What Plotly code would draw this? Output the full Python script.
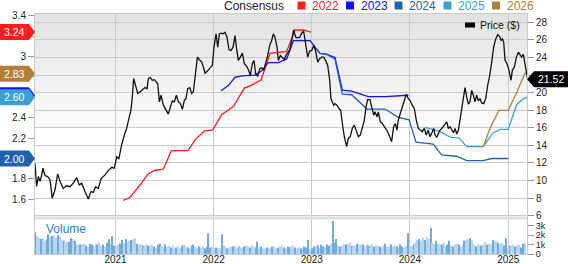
import plotly.graph_objects as go
import pandas as pd
import numpy as np

# ---------------- data ----------------
# dates given as decimal years
price_year = [2020.180, 2020.197, 2020.214, 2020.231, 2020.248, 2020.261, 2020.282, 2020.309, 2020.333, 2020.356,
              2020.384, 2020.411, 2020.435, 2020.468, 2020.502, 2020.536, 2020.570, 2020.604, 2020.631, 2020.655,
              2020.689, 2020.723, 2020.750, 2020.774, 2020.798, 2020.825, 2020.852, 2020.893, 2020.927, 2020.961,
              2020.988, 2021.012, 2021.035, 2021.062, 2021.090, 2021.113, 2021.137, 2021.157, 2021.171, 2021.185,
              2021.199, 2021.226, 2021.250, 2021.274, 2021.301, 2021.321, 2021.335, 2021.352, 2021.375, 2021.396,
              2021.413, 2021.430, 2021.447, 2021.464, 2021.487, 2021.511, 2021.538, 2021.559, 2021.579, 2021.599,
              2021.620, 2021.640, 2021.661, 2021.681, 2021.701, 2021.718, 2021.735, 2021.756, 2021.776, 2021.793,
              2021.813, 2021.834, 2021.854, 2021.878, 2021.895, 2021.912, 2021.936, 2021.963, 2021.986, 2022.003,
              2022.024, 2022.041, 2022.058, 2022.075, 2022.095, 2022.115, 2022.136, 2022.156, 2022.176, 2022.197,
              2022.217, 2022.231, 2022.251, 2022.271, 2022.292, 2022.312, 2022.336, 2022.353, 2022.373, 2022.393,
              2022.410, 2022.427, 2022.448, 2022.468, 2022.489, 2022.509, 2022.529, 2022.550, 2022.570, 2022.590,
              2022.607, 2022.624, 2022.645, 2022.658, 2022.679, 2022.699, 2022.719, 2022.736, 2022.753, 2022.774,
              2022.794, 2022.814, 2022.835, 2022.855, 2022.875, 2022.896, 2022.916, 2022.937, 2022.957, 2022.977,
              2022.998, 2023.018, 2023.038, 2023.059, 2023.079, 2023.099, 2023.120, 2023.140, 2023.161, 2023.181,
              2023.194, 2023.208, 2023.222, 2023.235, 2023.255, 2023.276, 2023.293, 2023.310, 2023.330, 2023.354,
              2023.371, 2023.391, 2023.411, 2023.432, 2023.452, 2023.473, 2023.493, 2023.513, 2023.534, 2023.551,
              2023.568, 2023.591, 2023.608, 2023.629, 2023.642, 2023.663, 2023.676, 2023.697, 2023.717, 2023.737,
              2023.754, 2023.771, 2023.792, 2023.812, 2023.832, 2023.849, 2023.866, 2023.880, 2023.900, 2023.921,
              2023.941, 2023.961, 2023.982, 2024.002, 2024.022, 2024.043, 2024.063, 2024.084, 2024.104, 2024.124,
              2024.145, 2024.165, 2024.185, 2024.202, 2024.219, 2024.240, 2024.254, 2024.271, 2024.288, 2024.305,
              2024.322, 2024.339, 2024.356, 2024.373, 2024.390, 2024.407, 2024.424, 2024.441, 2024.458, 2024.475,
              2024.492, 2024.509, 2024.526, 2024.542, 2024.559, 2024.576, 2024.593, 2024.610, 2024.627, 2024.644,
              2024.661, 2024.678, 2024.695, 2024.712, 2024.729, 2024.750, 2024.770, 2024.790, 2024.811, 2024.831,
              2024.851, 2024.872, 2024.892, 2024.912, 2024.926, 2024.940, 2024.953, 2024.967, 2024.987, 2025.007,
              2025.028, 2025.041, 2025.062, 2025.082, 2025.103, 2025.123, 2025.136, 2025.153, 2025.170, 2025.184,
              2025.197]
price_val = [11.96, 9.32, 10.45, 9.9, 10.6, 11.4, 10.57, 10.45, 10.1, 8.0,
             8.94, 10.75, 9.9, 9.1, 9.4, 9.3, 9.7, 10.34, 9.5, 9.7,
             8.75, 7.9, 8.75, 8.64, 9.3, 9.1, 10.2, 10.64, 11.13, 11.5,
             11.4, 12.7, 12.5, 14.04, 15.17, 15.9, 17.06, 18.0, 19.5, 21.6,
             21.02, 19.9, 20.1, 20.34, 20.57, 20.45, 21.6, 21.7, 21.4, 21.47,
             21.2, 21.0, 18.94, 19.7, 18.57, 18.0, 17.55, 18.38, 19.06, 18.94,
             19.7, 18.94, 18.75, 18.1, 19.13, 19.32, 20.45, 20.57, 19.9, 20.1,
             21.96, 24.04, 23.74, 23.47, 22.9, 22.2, 22.45, 22.83, 23.1, 25.17,
             26.68, 25.17, 26.68, 26.75, 26.68, 26.87, 26.3, 24.87, 24.8, 25.17,
             26.49, 25.17, 23.66, 24.04, 24.49, 23.28, 22.98, 22.6, 21.96, 23.28,
             23.66, 22.15, 21.85, 22.72, 22.83, 22.53, 23.28, 24.23, 25.36, 25.92,
             26.68, 26.3, 25.17, 23.66, 24.23, 24.04, 23.74, 24.23, 24.6, 24.87,
             25.92, 27.13, 26.3, 26.23, 26.3, 26.75, 26.98, 25.55, 24.04, 24.72,
             24.8, 25.36, 24.72, 23.47, 23.85, 24.04, 24.04, 23.66, 23.09, 21.4,
             19.32, 18.94, 18.57, 18.75, 18.57, 18.19, 18.0, 16.49, 14.98, 13.85,
             14.79, 14.98, 15.92, 16.3, 15.55, 14.98, 15.17, 15.92, 16.87, 18.38,
             19.21, 19.21, 18.38, 17.43, 17.81, 17.25, 17.81, 16.68, 16.49, 16.11,
             15.92, 15.55, 14.98, 14.42, 16.11, 16.49, 15.74, 16.87, 17.62, 18.38,
             19.21, 19.81, 19.32, 19.06, 18.57, 18.19, 16.87, 15.92, 15.74, 15.55,
             15.92, 15.17, 15.74, 14.98, 15.36, 15.92, 15.17, 14.9, 15.36, 15.74,
             15.92, 16.11, 16.42, 16.68, 15.92, 16.11, 15.74, 15.43, 15.92, 15.28,
             15.74, 16.87, 18.38, 19.51, 20.57, 19.51, 18.68, 18.94, 20.26, 19.7,
             18.94, 19.7, 19.06, 19.32, 18.83, 18.75, 19.32, 20.83, 21.96, 23.47,
             25.17, 26.11, 26.6, 26.38, 25.92, 26.11, 25.74, 23.66, 23.28, 22.53,
             21.4, 22.53, 22.9, 24.04, 24.6, 24.23, 24.04, 24.34, 23.09, 22.15,
             21.52]

eps_2022_year = [2021.079, 2021.148, 2021.249, 2021.335, 2021.403, 2021.487, 2021.568, 2021.738, 2021.817,
                 2021.905, 2021.990, 2022.081, 2022.200, 2022.258, 2022.312, 2022.387, 2022.482, 2022.522,
                 2022.573, 2022.743, 2022.828, 2022.913, 2022.990]
eps_2022 = [1.59, 1.62, 1.74, 1.85, 1.885, 1.895, 2.077, 2.077, 2.19, 2.27, 2.28, 2.43, 2.51, 2.60, 2.69,
            2.72, 2.77, 2.88, 3.03, 3.05, 3.26, 3.26, 3.24]

eps_2023_year = [2022.075, 2022.149, 2022.217, 2022.285, 2022.421, 2022.489, 2022.556, 2022.658, 2022.743,
                 2022.811, 2022.981, 2023.032, 2023.082, 2023.150, 2023.235, 2023.310, 2023.405, 2023.574,
                 2023.744, 2023.982]
eps_2023 = [2.665, 2.715, 2.795, 2.81, 2.818, 2.86, 2.94, 2.94, 2.975, 3.155, 3.155, 3.09, 3.03, 3.023,
            2.99, 2.67, 2.66, 2.606, 2.606, 2.62]

eps_2024_year = [2023.032, 2023.082, 2023.150, 2023.235, 2023.310, 2023.405, 2023.560, 2023.744, 2023.880,
                 2023.990, 2024.060, 2024.168, 2024.236, 2024.320, 2024.474, 2024.576, 2024.746, 2024.831,
                 2025.000]
eps_2024 = [3.09, 3.03, 3.02, 2.975, 2.632, 2.625, 2.485, 2.485, 2.403, 2.38, 2.16, 2.15, 2.14, 2.035,
            2.022, 1.98, 1.98, 2.00, 2.00]

eps_2025_year = [2024.151, 2024.253, 2024.305, 2024.407, 2024.500, 2024.576, 2024.746, 2024.840, 2024.916,
                 2025.000, 2025.086, 2025.160, 2025.197]
eps_2025 = [2.305, 2.28, 2.265, 2.21, 2.20, 2.117, 2.117, 2.248, 2.285, 2.285, 2.53, 2.59, 2.60]

eps_2026_year = [2024.746, 2024.817, 2024.905, 2025.000, 2025.086, 2025.170, 2025.197]
eps_2026 = [2.117, 2.303, 2.472, 2.472, 2.65, 2.835, 2.83]

volume_start = "2020-03-09"   # weekly bars, thousands
volume_k = [2.3, 1.9, 1.7, 1.6, 1.7, 1.4, 1.6, 2.1, 1.8, 1.9,
            2.0, 1.7, 2.0, 1.9, 1.5, 1.4, 1.3, 1.3, 1.3, 1.7,
            1.6, 1.4, 1.0, 1.0, 1.0, 1.1, 1.1, 0.9, 0.8, 1.1,
            1.0, 0.9, 1.1, 1.0, 1.3, 0.9, 1.0, 0.8, 1.2, 1.6,
            1.1, 1.9, 0.9, 0.8, 1.0, 1.1, 1.5, 1.2, 1.6, 1.3,
            1.4, 1.5, 1.6, 1.7, 1.1, 1.0, 1.1, 0.9, 0.8, 1.0,
            0.9, 0.9, 1.0, 0.8, 0.7, 1.0, 1.1, 0.9, 0.8, 1.0,
            0.8, 0.9, 0.7, 0.9, 0.6, 0.7, 0.8, 0.6, 0.9, 1.0,
            0.8, 0.7, 0.6, 0.9, 1.0, 0.8, 0.7, 0.8, 0.7, 0.8,
            0.6, 0.8, 2.2, 0.7, 0.8, 0.6, 0.7, 0.6, 0.6, 2.1,
            0.9, 0.8, 0.6, 0.7, 0.8, 0.8, 0.9, 0.7, 0.8, 0.7,
            0.7, 0.8, 0.9, 0.8, 0.7, 0.9, 0.8, 0.7, 1.3, 0.7,
            0.8, 0.6, 0.6, 0.7, 0.7, 0.6, 0.8, 0.8, 0.6, 0.7,
            0.8, 0.9, 0.7, 0.6, 0.8, 0.7, 0.8, 0.9, 0.7, 0.6,
            0.7, 0.6, 0.6, 0.8, 0.7, 1.5, 0.5, 0.6, 0.8, 0.9,
            0.9, 0.7, 1.0, 0.8, 0.7, 1.0, 0.9, 1.1, 3.5, 1.2,
            1.6, 0.9, 0.8, 0.9, 1.0, 1.0, 1.1, 1.2, 0.9, 0.8,
            0.9, 1.1, 1.0, 1.0, 1.0, 0.8, 1.0, 0.9, 0.9, 1.0,
            0.8, 0.9, 0.9, 0.8, 0.7, 0.9, 1.1, 0.8, 0.8, 1.0,
            0.8, 0.9, 0.8, 0.7, 1.0, 0.8, 0.7, 0.9, 2.2, 0.8,
            0.9, 1.0, 1.2, 1.5, 1.6, 1.4, 1.7, 1.5, 1.8, 1.6,
            2.8, 1.2, 1.0, 1.4, 1.1, 1.0, 1.0, 1.2, 0.8, 1.0,
            1.4, 0.9, 0.8, 1.0, 1.1, 1.0, 0.8, 1.0, 1.4, 1.5,
            1.6, 1.7, 1.5, 1.0, 0.8, 0.9, 1.0, 0.9, 1.0, 1.3,
            1.0, 1.1, 1.0, 1.5, 1.3, 1.4, 1.2, 1.1, 1.2, 0.9,
            1.7, 0.7, 0.9, 0.9, 1.0, 0.8, 0.9, 1.0, 0.7, 1.1,
            1.2]

series_names = ["2022", "2023", "2024", "2025", "2026"]
series_colors = ["#ff1f1f", "#1010ff", "#1f62b0", "#3aa0d2", "#b27e38"]
eps_tick_vals = [1.6, 1.8, 2.0, 2.2, 2.4, 2.6, 2.8, 3.0, 3.2, 3.4]
eps_tick_text = ["1.6", "1.8", "", "2.2", "2.4", "", "", "3", "", "3.4"]   # others sit under the badges
price_tick_vals = [6, 8, 10, 12, 14, 16, 18, 20, 22, 24, 26, 28]
price_tick_text = ["6", "8", "10", "12", "14", "16", "18", "20", "", "24", "26", "28"]  # 22 under the badge
vol_tick_vals = [0, 1, 2, 3]
vol_tick_text = ["0", "1k", "2k", "3k"]
hidden_badge_text = ["2023"]   # its badge sits under the 2025 badge


def yr2date(y):
    return pd.Timestamp("2021-01-01") + pd.to_timedelta((np.asarray(y) - 2021.0) * 365.25, unit="D")


# ---------------- geometry ----------------
WIDTH, HEIGHT = 568, 264
L, R, T, B = 35, 527, 14, 254
MAIN_BOTTOM_PX, VOL_TOP_PX = 217, 219


def px(x):
    return (x - L) / (R - L)


def py(y):
    return (B - y) / (B - T)


MAIN_Y0 = py(MAIN_BOTTOM_PX)
VOL_Y1 = py(VOL_TOP_PX)
GRID = "#cacaca"
FONT = "Liberation Sans, Arial, Helvetica, sans-serif"

fig = go.Figure()

eps_years = [eps_2022_year, eps_2023_year, eps_2024_year, eps_2025_year, eps_2026_year]
eps_vals = [eps_2022, eps_2023, eps_2024, eps_2025, eps_2026]
for name, col, ys, vs in zip(series_names, series_colors, eps_years, eps_vals):
    fig.add_trace(go.Scatter(x=yr2date(ys), y=vs, mode="lines", name=name,
                             line=dict(color=col, width=1.3), xaxis="x", yaxis="y",
                             hoverinfo="skip"))

fig.add_trace(go.Scatter(x=yr2date(price_year), y=price_val, mode="lines", name="Price ($)",
                         line=dict(color="#111111", width=1.3), xaxis="x", yaxis="y2",
                         hoverinfo="skip"))

vol_dates = pd.date_range(volume_start, periods=len(volume_k), freq="7D")
vol_colors = ["#72aadc" if i % 3 == 0 or (i > 0 and volume_k[i] > volume_k[i - 1] * 1.3) else "#b8d5ef"
              for i in range(len(volume_k))]
fig.add_trace(go.Bar(x=vol_dates, y=volume_k, xaxis="x2", yaxis="y3",
                     marker=dict(color=vol_colors, line=dict(width=0)),
                     width=7 * 24 * 3600 * 1000 * 0.6, hoverinfo="skip"))

x_range = [yr2date(2020.1802), yr2date(2025.1904)]

shapes = []
# gradient background of the main panel
N = 40
for i in range(N):
    t = i / N
    g = int(round(226 + (255 - 226) * min(1.0, t / 0.62)))
    y1 = 1 - (1 - MAIN_Y0) * t
    y0 = 1 - (1 - MAIN_Y0) * (i + 1) / N
    shapes.append(dict(type="rect", xref="paper", yref="paper", x0=0, x1=1, y0=y0, y1=y1 + 0.001,
                       fillcolor=f"rgb({g},{g},{g})", line=dict(width=0), layer="below"))
# separator band between panels
shapes.append(dict(type="rect", xref="paper", yref="paper", x0=0, x1=1, y0=py(219.4), y1=py(216.6),
                   fillcolor="#dedede", line=dict(width=0), layer="above"))

annotations = []
# consensus badges on the left axis
for name, col, vs in zip(series_names, series_colors, eps_vals):
    v = vs[-1]
    shapes.append(dict(type="path", xref="paper", yref="y", xsizemode="pixel", ysizemode="pixel",
                       xanchor=0, yanchor=v, path="M -35,-8 L -6,-8 L 0,0 L -6,8 L -35,8 Z",
                       fillcolor=col, line=dict(width=0), layer="above"))
    if name not in hidden_badge_text:
        annotations.append(dict(xref="paper", yref="y", x=0, y=v, xshift=-21, text=f"{v:.2f}",
                                showarrow=False, xanchor="center", yanchor="middle",
                                font=dict(color="white", size=10.5, family=FONT)))
# last price badge on the right
last_price = price_val[-1]
shapes.append(dict(type="path", xref="paper", yref="y2", xsizemode="pixel", ysizemode="pixel",
                   xanchor=1, yanchor=last_price, path="M 0,0 L 7,-8 L 41,-8 L 41,8 L 7,8 Z",
                   fillcolor="#000000", line=dict(width=0), layer="above"))
annotations.append(dict(xref="paper", yref="y2", x=1, y=last_price, xshift=24, text=f"{last_price:.2f}",
                        showarrow=False, xanchor="center", yanchor="middle",
                        font=dict(color="white", size=10.5, family=FONT)))

# top legend
annotations.append(dict(xref="paper", yref="paper", x=px(286), y=py(5.5), text="Consensus",
                        showarrow=False, xanchor="right", yanchor="middle",
                        font=dict(color="#222", size=12, family=FONT)))
text_left = [311.5, 360.0, 408.5, 457.5, 506.0]
for name, col, tl in zip(series_names, series_colors, text_left):
    shapes.append(dict(type="rect", xref="paper", yref="paper", x0=px(tl - 14), x1=px(tl - 6),
                       y0=py(9.5), y1=py(1.5), fillcolor=col, line=dict(width=0)))
    annotations.append(dict(xref="paper", yref="paper", x=px(tl - 1.5), y=py(5.5), text=name,
                            showarrow=False, xanchor="left", yanchor="middle",
                            font=dict(color=col, size=12, family=FONT)))
# price legend
shapes.append(dict(type="rect", xref="paper", yref="paper", x0=px(465), x1=px(475),
                   y0=py(27.5), y1=py(22.5), fillcolor="#000", line=dict(width=0)))
annotations.append(dict(xref="paper", yref="paper", x=px(477.5), y=py(25), text="Price ($)",
                        showarrow=False, xanchor="left", yanchor="middle",
                        font=dict(color="#111", size=10.5, family=FONT)))
# volume label
annotations.append(dict(xref="paper", yref="paper", x=px(44), y=py(229), text="Volume",
                        showarrow=False, xanchor="left", yanchor="middle",
                        font=dict(color="#2f7fc1", size=12, family=FONT)))

tickfont = dict(size=10, color="#222", family=FONT)
voltickfont = dict(size=9, color="#222", family=FONT)
fig.update_layout(
    width=WIDTH, height=HEIGHT, autosize=False,
    margin=dict(l=L, r=WIDTH - R, t=T, b=HEIGHT - B, pad=0, autoexpand=False),
    paper_bgcolor="white", plot_bgcolor="rgba(0,0,0,0)",
    showlegend=False, bargap=0.4,
    font=dict(family=FONT, size=10, color="#222"),
    xaxis=dict(domain=[0, 1], anchor="y", type="date", range=x_range, showgrid=True, gridcolor=GRID,
               gridwidth=1, dtick="M12", tick0="2021-01-01", showticklabels=False, ticks="",
               showline=True, mirror=True, linecolor=GRID, zeroline=False, automargin=False),
    xaxis2=dict(domain=[0, 1], anchor="y3", type="date", range=x_range, matches="x", showgrid=True,
                gridcolor=GRID, gridwidth=1, dtick="M12", tick0="2021-01-01", tickformat="%Y",
                ticks="", showline=True, mirror=True, linecolor=GRID, zeroline=False, tickfont=tickfont,
                ticklabelstandoff=-4, automargin=False),
    yaxis=dict(domain=[MAIN_Y0, 1], anchor="x", range=[1.4265, 3.4167], tickvals=eps_tick_vals,
               ticktext=eps_tick_text, ticks="outside", ticklen=6, tickcolor="#999", showgrid=False,
               zeroline=False, showline=True, mirror=True, linecolor=GRID, tickfont=tickfont,
               automargin=False),
    yaxis2=dict(overlaying="y", side="right", anchor="x", range=[5.85, 28.94], tickvals=price_tick_vals,
                ticktext=price_tick_text, showgrid=True, gridcolor=GRID, gridwidth=1, ticks="outside",
                ticklen=6, tickcolor="#999", zeroline=False, tickfont=tickfont, automargin=False),
    yaxis3=dict(domain=[0, VOL_Y1], anchor="x2", side="right", range=[0, 3.72], tickvals=vol_tick_vals,
                ticktext=vol_tick_text, ticks="outside", ticklen=6, tickcolor="#999", showgrid=False,
                zeroline=False, showline=True, mirror=True, linecolor=GRID, tickfont=voltickfont,
                automargin=False),
    shapes=shapes, annotations=annotations,
)

fig.write_html("out.html")
